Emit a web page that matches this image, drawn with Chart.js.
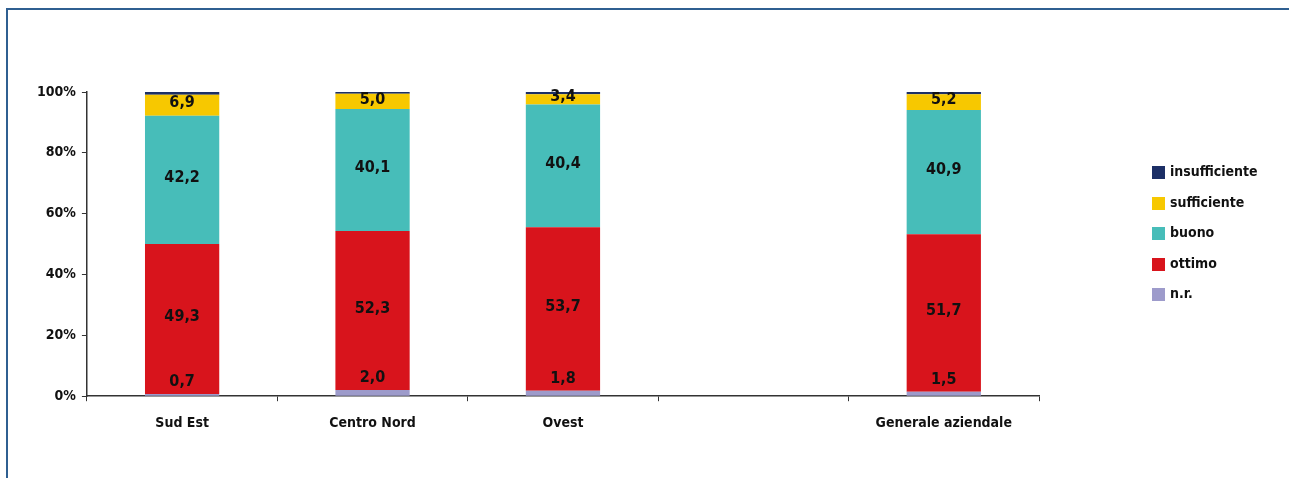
<!DOCTYPE html>
<html>
<head>
<meta charset="utf-8">
<script src="https://cdn.jsdelivr.net/npm/chart.js@4/dist/chart.umd.min.js"></script>
<style>
  html, body { margin: 0; padding: 0; background: #fff; }
  #wrap { position: relative; width: 1289px; height: 478px; overflow: hidden; }
  #frame { position: absolute; left: 6px; top: 8px; width: 1300px; height: 480px;
           border-top: 2px solid #2f5f91; border-left: 2px solid #2f5f91; }
  #chart { position: absolute; left: 0; top: 0; }
  #legend { position: absolute; left: 1152px; top: 163px;
            font: bold 14px 'DejaVu Sans Condensed', 'Liberation Sans Narrow', Arial, sans-serif; color: #111; }
  #legend div { height: 30.6px; display: flex; align-items: flex-start; }
  #legend span.box { display: inline-block; width: 13px; height: 13px; margin: 3px 5px 0 0; }
</style>
</head>
<body>
<div id="wrap">
  <div id="frame"></div>
  <canvas id="chart" width="1289" height="478"></canvas>
  <div id="legend"></div>
</div>
<script>
// data (percent)
const categories = ['Sud Est', 'Centro Nord', 'Ovest', '', 'Generale aziendale'];
const nr           = [0.7, 2.0, 1.8, null, 1.5];
const ottimo       = [49.3, 52.3, 53.7, null, 51.7];
const buono        = [42.2, 40.1, 40.4, null, 40.9];
const sufficiente  = [6.9, 5.0, 3.4, null, 5.2];
const insufficiente = [0.9, 0.6, 0.7, null, 0.7];
const yTicks = [0, 20, 40, 60, 80, 100];

const FONT = "'DejaVu Sans Condensed', 'Liberation Sans Narrow', Arial, sans-serif";

const datasets = [
  { label: 'n.r.', data: nr, backgroundColor: '#9d9bcb', showLabel: true, labelAbove: true },
  { label: 'ottimo', data: ottimo, backgroundColor: '#d8141c', showLabel: true },
  { label: 'buono', data: buono, backgroundColor: '#47bdb9', showLabel: true },
  { label: 'sufficiente', data: sufficiente, backgroundColor: '#f7c800', showLabel: true },
  { label: 'insufficiente', data: insufficiente, backgroundColor: '#1c2f66', showLabel: false }
];
datasets.forEach(d => {
  d.barPercentage = 0.39;
  d.categoryPercentage = 1;
  d.borderWidth = 0;
});

const fmt = v => v.toFixed(1).replace('.', ',');

const valueLabels = {
  id: 'valueLabels',
  afterDatasetsDraw(chart) {
    const ctx = chart.ctx;
    ctx.save();
    ctx.font = 'bold 16px ' + FONT;
    ctx.fillStyle = '#111';
    ctx.textAlign = 'center';
    ctx.textBaseline = 'middle';
    chart.data.datasets.forEach((ds, i) => {
      if (!ds.showLabel) return;
      chart.getDatasetMeta(i).data.forEach((bar, j) => {
        const v = ds.data[j];
        if (v == null) return;
        const y = ds.labelAbove ? bar.y - 12 : (bar.y + bar.base) / 2 - 2;
        ctx.fillText(fmt(v), bar.x, y);
      });
    });
    ctx.restore();
  }
};

const chart = new Chart(document.getElementById('chart'), {
  type: 'bar',
  data: { labels: categories, datasets: datasets },
  options: {
    responsive: false,
    animation: false,
    layout: { padding: { top: 92, right: 250, bottom: 32, left: 31 } },
    plugins: { legend: { display: false }, tooltip: { enabled: false } },
    scales: {
      x: {
        stacked: true,
        grid: { drawOnChartArea: false, drawTicks: true, tickLength: 5, color: '#333', tickWidth: 1 },
        border: { color: '#333', width: 1.5 },
        ticks: { color: '#111', font: { family: FONT, size: 14, weight: 'bold' }, padding: 14, maxRotation: 0 }
      },
      y: {
        stacked: true,
        min: 0,
        max: 100,
        afterBuildTicks: axis => { axis.ticks = yTicks.map(v => ({ value: v })); },
        grid: { drawOnChartArea: false, drawTicks: true, tickLength: 5, color: '#333' },
        border: { color: '#333', width: 1.5 },
        ticks: { color: '#111', font: { family: FONT, size: 14, weight: 'bold' }, padding: 6,
                 callback: v => v + '%' }
      }
    }
  },
  plugins: [valueLabels]
});

// legend, top entry = last stacked series
const legend = document.getElementById('legend');
chart.data.datasets.slice().reverse().forEach(ds => {
  const row = document.createElement('div');
  row.innerHTML = '<span class="box" style="background:' + ds.backgroundColor + '"></span>' + ds.label;
  legend.appendChild(row);
});
</script>
</body>
</html>
